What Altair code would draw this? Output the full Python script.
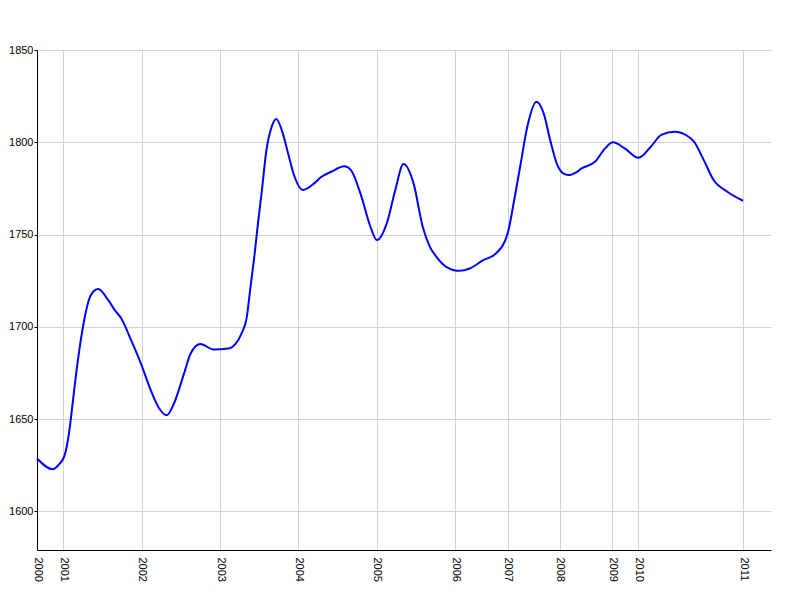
import altair as alt
import pandas as pd

# position along the time axis (month-like units) and series value
t_vals = [0, 2.42, 3.5, 4.14, 4.55, 5.0, 5.5, 5.9, 6.47, 7.32, 7.92, 8.59, 9.35, 10.9, 11.9, 12.9,
          14.4, 15.9, 17.4, 18.7, 19.85, 20.95, 22.5, 23.5, 25.0, 27.0, 29.5, 30.3, 31.3, 32.1,
          32.6, 33.3, 33.8, 34.35, 35.1, 35.9, 36.6, 37.6, 38.4, 39.4, 40.65, 42.4, 43.4, 45.0,
          47.0, 48.0, 49.5, 51.0, 52.0, 53.5, 54.8, 56.06, 57.6, 59.0, 60.1, 61.1, 62.6, 64.65,
          66.2, 68.2, 70.2, 72.0, 73.0, 74.0, 75.0, 76.4, 77.5, 78.5, 79.5, 80.5, 81.3, 82.6,
          83.3, 85.35, 86.9, 88.1, 89.9, 92.0, 93.9, 95.5, 97.5, 99.5, 100.5, 102.0, 103.5,
          105.6, 108.0]
values = [1628.6, 1622.8, 1625.9, 1629.5, 1635.0, 1645.0, 1660.0, 1672.0, 1687.3, 1705.4, 1714.4,
          1719.0, 1720.4, 1714.4, 1709.0, 1704.5, 1692.7, 1680.0, 1665.6, 1655.7, 1652.0, 1658.4,
          1674.7, 1685.5, 1690.6, 1687.7, 1688.4, 1690.4, 1696.4, 1705.4, 1719.8, 1739.8, 1756.0,
          1772.3, 1795.8, 1808.4, 1812.6, 1804.8, 1794.0, 1781.3, 1774.1, 1777.7, 1781.0, 1784.0,
          1787.0, 1785.0, 1772.0, 1754.2, 1747.0, 1756.0, 1774.0, 1788.2, 1777.7, 1754.2, 1743.3,
          1737.9, 1732.5, 1730.3, 1731.6, 1736.0, 1739.7, 1750.6, 1768.7, 1788.6, 1808.4, 1822.0,
          1815.7, 1801.2, 1788.6, 1783.1, 1782.2, 1784.0, 1785.8, 1789.4, 1796.7, 1800.0, 1796.7,
          1791.6, 1797.6, 1804.0, 1805.7, 1803.4, 1800.3, 1790.3, 1779.5, 1773.2, 1768.3]

tick_positions = [0, 4, 16, 28, 40, 52, 64, 72, 80, 88, 92, 108]
tick_labels = ["2000", "2001", "2002", "2003", "2004", "2005", "2006", "2007", "2008", "2009", "2010", "2011"]
y_ticks = [1600, 1650, 1700, 1750, 1800, 1850]

df = pd.DataFrame({"t": t_vals, "v": values})

label_expr = ""
for p, l in zip(tick_positions, tick_labels):
    label_expr += f"datum.value == {p} ? '{l}' : "
label_expr += "''"

font = "Liberation Sans"

chart = alt.Chart(df).mark_line(
    color="#0000ff", strokeWidth=2, interpolate="monotone"
).encode(
    x=alt.X("t:Q", scale=alt.Scale(domain=[0, 112.28], nice=False, zero=False),
            axis=alt.Axis(values=tick_positions, labelExpr=label_expr, title=None,
                          labelAngle=90, ticks=False, labelPadding=7, labelFontSize=11,
                          labelFont=font, labelColor="#000000", domainColor="#000000",
                          gridColor="#d3d3d3", labelOverlap=False, labelFlush=False)),
    y=alt.Y("v:Q", scale=alt.Scale(domain=[1579, 1850], nice=False, zero=False),
            axis=alt.Axis(values=y_ticks, title=None, format="d", tickSize=3, tickColor="#000000",
                          labelPadding=1, labelFontSize=11, labelFont=font,
                          labelColor="#000000", domainColor="#000000",
                          gridColor="#d3d3d3", labelOverlap=False, labelFlush=False)),
).properties(
    width=734, height=500,
    autosize=alt.AutoSizeParams(type="none"),
    padding={"left": 29, "top": 42, "right": 20, "bottom": 40},
).configure_view(stroke=None).configure_axis(domainWidth=1, gridWidth=1)

chart.save("out.html", embed_options={"renderer": "svg", "actions": False})
